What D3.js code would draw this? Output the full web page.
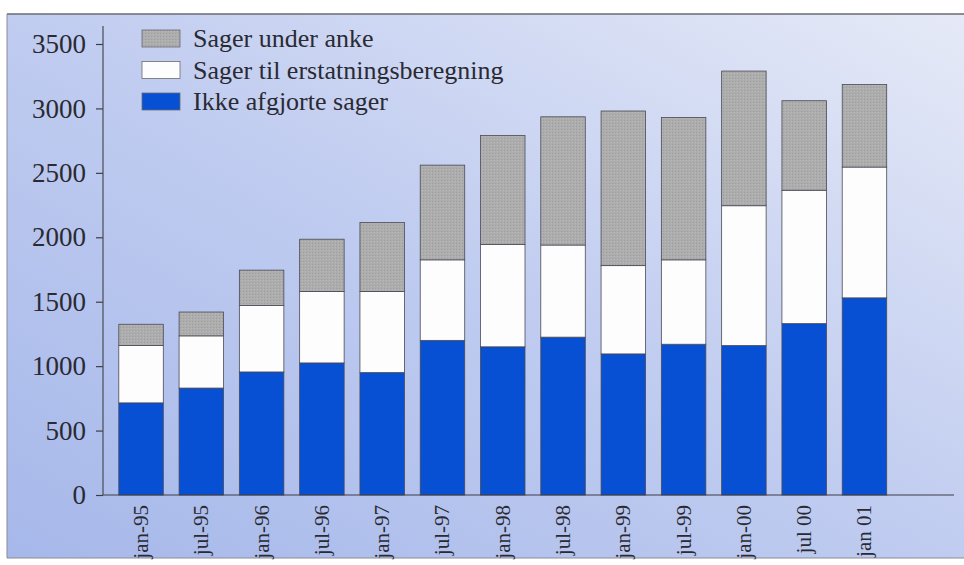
<!DOCTYPE html>
<html>
<head>
<meta charset="utf-8">
<script src="https://cdn.jsdelivr.net/npm/d3@7/dist/d3.min.js"></script>
<style>
  html, body { margin: 0; padding: 0; background: #ffffff; }
  svg { display: block; }
  text { font-family: "Liberation Serif", "DejaVu Serif", serif; fill: #2a2a33; }
</style>
</head>
<body>
<svg id="chart" width="964" height="565"></svg>
<script>
// Periods (half-yearly status dates)
const periods = ["jan-95", "jul-95", "jan-96", "jul-96", "jan-97", "jul-97", "jan-98",
                 "jul-98", "jan-99", "jul-99", "jan-00", "jul 00", "jan 01"];

// Number of cases per category at each date
const ikkeAfgjorte = [715, 830, 955, 1025, 950, 1200, 1150, 1225, 1095, 1170, 1160, 1330, 1530];
const tilErstatning = [445, 405, 515, 555, 630, 625, 795, 715, 685, 655, 1085, 1035, 1015];
const underAnke = [165, 185, 275, 405, 535, 735, 845, 995, 1200, 1105, 1045, 695, 640];

const seriesNames = ["Ikke afgjorte sager", "Sager til erstatningsberegning", "Sager under anke"];
const yTicks = [0, 500, 1000, 1500, 2000, 2500, 3000, 3500];

const W = 964, H = 565;
const svg = d3.select("#chart");

// Panel background with soft diagonal blue gradient
const defs = svg.append("defs");
const grad = defs.append("linearGradient").attr("id", "bg")
  .attr("x1", "0%").attr("y1", "100%").attr("x2", "100%").attr("y2", "0%");
grad.append("stop").attr("offset", "0%").attr("stop-color", "#a6b8ea");
grad.append("stop").attr("offset", "50%").attr("stop-color", "#c0ccf0");
grad.append("stop").attr("offset", "100%").attr("stop-color", "#e6eaf7");

// Fine texture for the grey segments
const pat = defs.append("pattern").attr("id", "greyTex")
  .attr("width", 3).attr("height", 3).attr("patternUnits", "userSpaceOnUse");
pat.append("rect").attr("width", 3).attr("height", 3).attr("fill", "#adadad");
pat.append("rect").attr("x", 0).attr("y", 0).attr("width", 1).attr("height", 1).attr("fill", "#9e9e9e");
pat.append("rect").attr("x", 2).attr("y", 1).attr("width", 1).attr("height", 1).attr("fill", "#b9b9b9");

svg.append("rect").attr("x", 7).attr("y", 14).attr("width", W).attr("height", 544)
  .attr("fill", "url(#bg)");
svg.append("line").attr("x1", 7).attr("x2", W).attr("y1", 14).attr("y2", 14)
  .attr("stroke", "#6a6a72").attr("stroke-width", 1.5);
svg.append("line").attr("x1", 7).attr("x2", 7).attr("y1", 14).attr("y2", 558)
  .attr("stroke", "#8a8a96").attr("stroke-width", 1);
svg.append("line").attr("x1", 7).attr("x2", W).attr("y1", 558).attr("y2", 558)
  .attr("stroke", "#8a8a96").attr("stroke-width", 1);

const axisX = 103, baseY = 495, topY = 44;

const x = d3.scaleBand().domain(periods)
  .range([110.9, 894.6]).paddingInner(0.262).paddingOuter(0.131);
const y = d3.scaleLinear().domain([0, 3500]).range([baseY, topY]);

const table = periods.map((p, i) => ({
  period: p,
  "Ikke afgjorte sager": ikkeAfgjorte[i],
  "Sager til erstatningsberegning": tilErstatning[i],
  "Sager under anke": underAnke[i]
}));
const stacked = d3.stack().keys(seriesNames)(table);

const fills = {
  "Ikke afgjorte sager": "#0750d4",
  "Sager til erstatningsberegning": "#fdfdfd",
  "Sager under anke": "url(#greyTex)"
};

// Stacked bars
const groups = svg.append("g").selectAll("g").data(stacked).join("g")
  .attr("fill", d => fills[d.key]);
groups.selectAll("rect").data(d => d).join("rect")
  .attr("x", d => x(d.data.period))
  .attr("width", x.bandwidth())
  .attr("y", d => y(d[1]))
  .attr("height", d => y(d[0]) - y(d[1]))
  .attr("stroke", "#4a4a55").attr("stroke-width", 0.8);

// Y axis
const yAxis = d3.axisLeft(y).tickValues(yTicks).tickSize(7).tickPadding(10)
  .tickFormat(d3.format("d"));
const gy = svg.append("g").attr("transform", `translate(${axisX},0)`).call(yAxis);
gy.select(".domain").remove();
gy.selectAll(".tick line").attr("stroke", "#3d3d48").attr("stroke-width", 1.2);
gy.selectAll(".tick text").attr("font-size", 27).attr("fill", "#2a2a33")
  .attr("font-family", "Liberation Serif, serif");
svg.append("line").attr("x1", axisX).attr("x2", axisX).attr("y1", 26).attr("y2", baseY)
  .attr("stroke", "#4a4a55").attr("stroke-width", 1.2);

// X axis baseline and rotated period labels
svg.append("line").attr("x1", axisX).attr("x2", 954).attr("y1", baseY).attr("y2", baseY)
  .attr("stroke", "#3d3d48").attr("stroke-width", 1.2);
svg.append("g").selectAll("text").data(periods).join("text")
  .attr("transform", d => `translate(${x(d) + x.bandwidth() / 2 + 7},505) rotate(-90)`)
  .attr("text-anchor", "end")
  .attr("font-size", 21)
  .text(d => d);

// Legend
const legendItems = [
  { name: "Sager under anke", fill: "url(#greyTex)" },
  { name: "Sager til erstatningsberegning", fill: "#fdfdfd" },
  { name: "Ikke afgjorte sager", fill: "#0750d4" }
];
const lg = svg.append("g").selectAll("g").data(legendItems).join("g")
  .attr("transform", (d, i) => `translate(142,${30 + i * 31.5})`);
lg.append("rect").attr("width", 38).attr("height", 17)
  .attr("fill", d => d.fill).attr("stroke", "#6a6a72").attr("stroke-width", 0.8);
lg.append("text").attr("x", 51).attr("y", 17).attr("font-size", 26)
  .text(d => d.name);
</script>
</body>
</html>
